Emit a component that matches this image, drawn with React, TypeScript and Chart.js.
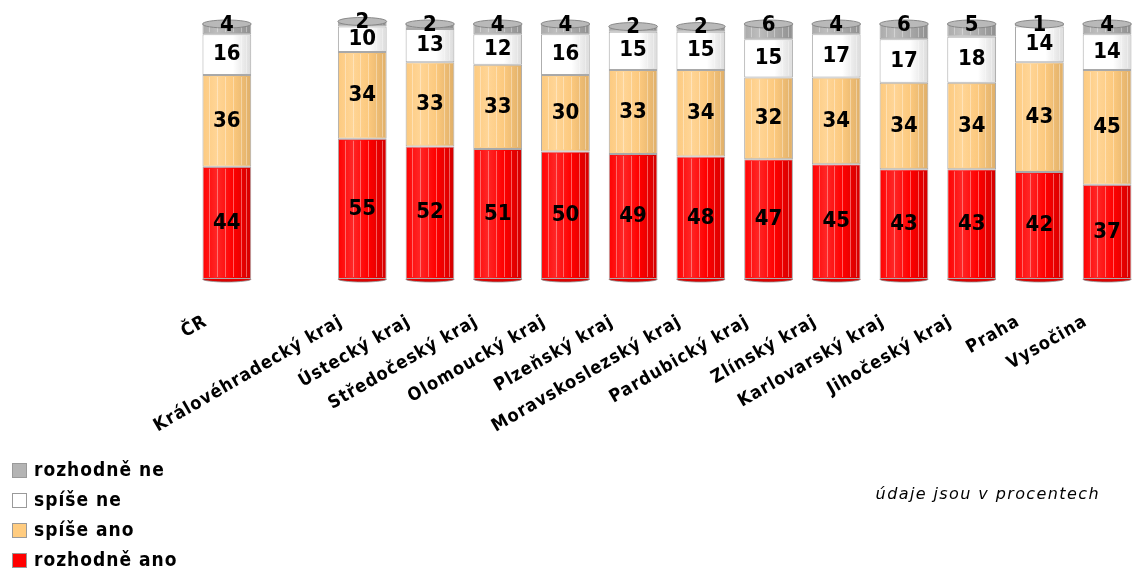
import React, { useEffect, useRef } from 'react';
import { Chart, registerables } from 'chart.js';

Chart.register(...registerables);

// ---- data ----
const categories = [
  'ČR',
  '',
  'Královéhradecký kraj',
  'Ústecký kraj',
  'Středočeský kraj',
  'Olomoucký kraj',
  'Plzeňský kraj',
  'Moravskoslezský kraj',
  'Pardubický kraj',
  'Zlínský kraj',
  'Karlovarský kraj',
  'Jihočeský kraj',
  'Praha',
  'Vysočina',
];
const rozhodneAno = [44, null, 55, 52, 51, 50, 49, 48, 47, 45, 43, 43, 42, 37];
const spiseAno = [36, null, 34, 33, 33, 30, 33, 34, 32, 34, 34, 34, 43, 45];
const spiseNe = [16, null, 10, 13, 12, 16, 15, 15, 15, 17, 17, 18, 14, 14];
const rozhodneNe = [4, null, 2, 2, 4, 4, 2, 2, 6, 4, 6, 5, 1, 4];
const seriesLabels = ['rozhodně ano', 'spíše ano', 'spíše ne', 'rozhodně ne'];
const noteText = 'údaje jsou v procentech';

// ---- styles ----
const FONT = '"DejaVu Sans Condensed", "DejaVu Sans", sans-serif';
const NOTE_FONT = '"DejaVu Sans", sans-serif';
const baseColors = ['#ff0000', '#fcc97e', '#ffffff', '#a9a9a9'];
const lightColors = ['#ff2626', '#ffd596', '#ffffff', '#bdbdbd'];
const darkColors = ['#d00000', '#deae68', '#dadada', '#8e8e8e'];
const legendColors = ['#ff0000', '#ffcc80', '#ffffff', '#b4b4b4'];

function cylFill(i: number) {
  return (ctx: any) => {
    const chart = ctx.chart;
    const xs = chart.scales && chart.scales.x;
    if (ctx.type !== 'data' || !xs || !chart.chartArea) return baseColors[i];
    const cx = xs.getPixelForValue(ctx.dataIndex);
    if (!Number.isFinite(cx)) return baseColors[i];
    const half = 25;
    const g = chart.ctx.createLinearGradient(cx - half, 0, cx + half, 0);
    g.addColorStop(0, baseColors[i]);
    g.addColorStop(0.3, lightColors[i]);
    g.addColorStop(0.62, baseColors[i]);
    g.addColorStop(1, darkColors[i]);
    return g;
  };
}

const decorPlugin = {
  id: 'decor',
  beforeDraw(chart: any) {
    chart.ctx.letterSpacing = '1px';
  },
  afterDatasetsDraw(chart: any) {
    const { ctx } = chart;
    const n = chart.data.datasets.length;
    ctx.save();
    ctx.letterSpacing = '0px';
    // facet lines
    for (let d = 0; d < n; d++) {
      const meta = chart.getDatasetMeta(d);
      meta.data.forEach((el: any, i: number) => {
        const v = chart.data.datasets[d].data[i];
        if (v == null) return;
        const { x, y, base, width } = el.getProps(['x', 'y', 'base', 'width'], true);
        ctx.strokeStyle = d === 0 ? 'rgba(255,190,190,0.5)' : 'rgba(255,255,255,0.35)';
        ctx.lineWidth = 1;
        [0.14, 0.3, 0.46, 0.62, 0.78, 0.9].forEach((f) => {
          const lx = Math.round(x - width / 2 + width * f) + 0.5;
          ctx.beginPath();
          ctx.moveTo(lx, y + 2);
          ctx.lineTo(lx, base - 2);
          ctx.stroke();
        });
      });
    }
    // bottom rounding and top caps
    const first = chart.getDatasetMeta(0);
    const last = chart.getDatasetMeta(n - 1);
    first.data.forEach((el: any, i: number) => {
      if (chart.data.datasets[0].data[i] == null) return;
      const { x, base, width } = el.getProps(['x', 'base', 'width'], true);
      ctx.beginPath();
      ctx.ellipse(x, base, width / 2, 3, 0, 0, Math.PI);
      ctx.fillStyle = '#dd0000';
      ctx.fill();
      ctx.strokeStyle = 'rgba(140,140,140,0.8)';
      ctx.stroke();
    });
    last.data.forEach((el: any, i: number) => {
      if (chart.data.datasets[n - 1].data[i] == null) return;
      const { x, y, width } = el.getProps(['x', 'y', 'width'], true);
      ctx.beginPath();
      ctx.ellipse(x, y, width / 2, 4, 0, 0, Math.PI * 2);
      ctx.fillStyle = '#b9b9b9';
      ctx.fill();
      ctx.strokeStyle = 'rgba(130,130,130,0.9)';
      ctx.stroke();
    });
    // value labels
    ctx.fillStyle = '#000';
    ctx.font = `bold 22px ${FONT}`;
    ctx.textAlign = 'center';
    ctx.textBaseline = 'middle';
    for (let d = 0; d < n; d++) {
      const meta = chart.getDatasetMeta(d);
      meta.data.forEach((el: any, i: number) => {
        const v = chart.data.datasets[d].data[i];
        if (v == null) return;
        const { x, y, base } = el.getProps(['x', 'y', 'base'], true);
        let cy = (y + base) / 2;
        if (d === n - 1) cy = Math.min(cy, y + 1);
        ctx.fillText(String(v), x, cy);
      });
    }
    ctx.restore();
  },
  afterDraw(chart: any) {
    const { ctx } = chart;
    const n = chart.data.datasets.length;
    ctx.save();
    ctx.letterSpacing = '1px';
    ctx.textBaseline = 'middle';
    ctx.textAlign = 'left';
    ctx.font = `bold 19px ${FONT}`;
    for (let k = 0; k < n; k++) {
      const d = n - 1 - k;
      const cy = 471 + k * 30;
      ctx.fillStyle = legendColors[d];
      ctx.fillRect(12.5, cy - 7.5, 14, 14);
      ctx.strokeStyle = '#9a9a9a';
      ctx.lineWidth = 1;
      ctx.strokeRect(12.5, cy - 7.5, 14, 14);
      ctx.fillStyle = '#000';
      ctx.fillText(chart.data.datasets[d].label, 34, cy);
    }
    ctx.letterSpacing = '1.4px';
    ctx.font = `italic 16px ${NOTE_FONT}`;
    ctx.textAlign = 'right';
    ctx.fillText(noteText, 1100, 495);
    ctx.restore();
  },
};

export default function App() {
  const ref = useRef<HTMLCanvasElement>(null);
  useEffect(() => {
    const seriesData = [rozhodneAno, spiseAno, spiseNe, rozhodneNe];
    const chart = new Chart(ref.current as HTMLCanvasElement, {
      type: 'bar',
      data: {
        labels: categories,
        datasets: seriesData.map((data, i) => ({
          label: seriesLabels[i],
          data,
          backgroundColor: cylFill(i),
          borderColor: 'rgba(140,140,140,0.75)',
          borderWidth: 1,
          borderSkipped: false,
          barPercentage: 0.72,
          categoryPercentage: 1,
          clip: false,
        })),
      } as any,
      options: {
        animation: false,
        responsive: false,
        maintainAspectRatio: false,
        events: [],
        layout: { padding: { left: 193, right: 3, top: 24, bottom: 111 } },
        plugins: {
          legend: { display: false },
          tooltip: { enabled: false },
        },
        scales: {
          x: {
            stacked: true,
            grid: { display: false, drawTicks: false },
            border: { display: false },
            ticks: {
              autoSkip: false,
              minRotation: 30,
              maxRotation: 30,
              padding: 32,
              labelOffset: -21,
              color: '#000',
              font: { family: FONT, size: 18, weight: 'bold' },
            },
            afterFit: (s: any) => {
              s.height = 180;
            },
          },
          y: { stacked: true, display: false, min: 0, max: 100 },
        },
      } as any,
      plugins: [decorPlugin],
    });
    return () => chart.destroy();
  }, []);
  return (
    <div
      style={{
        position: 'fixed',
        left: 0,
        top: 0,
        width: 1132,
        height: 570,
        overflow: 'hidden',
        background: '#fff',
      }}
    >
      <canvas ref={ref} width={1150} height={570} style={{ display: 'block', width: 1150, height: 570 }} />
    </div>
  );
}
